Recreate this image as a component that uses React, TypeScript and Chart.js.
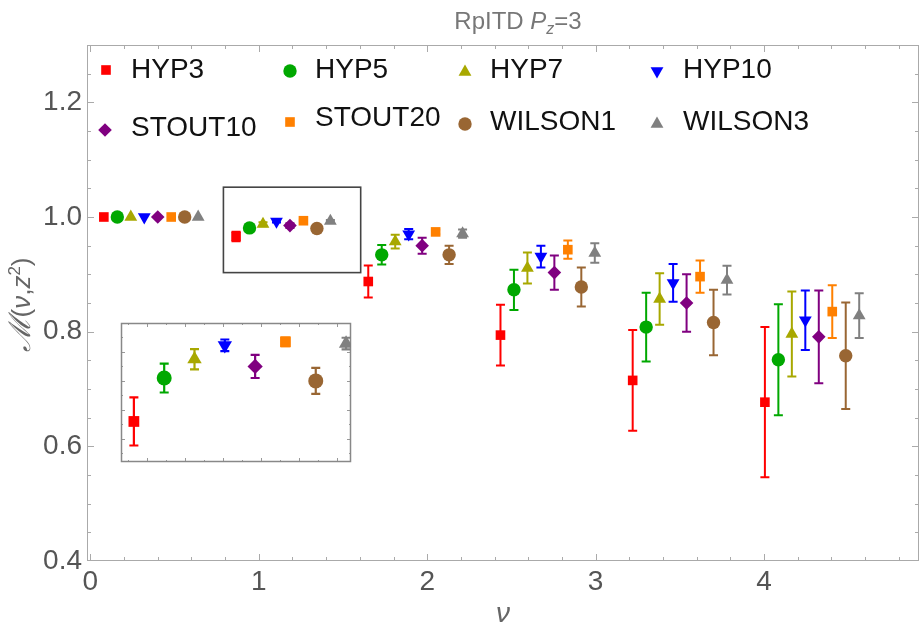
import React, { useEffect, useRef } from "react";
import { Chart, registerables } from "chart.js";
Chart.register(...registerables);

const FONT = "'Liberation Sans', Arial, sans-serif";

// ---- data ----
const seriesNames = ["HYP3", "HYP5", "HYP7", "HYP10", "STOUT10", "STOUT20", "WILSON1", "WILSON3"];
const seriesColors = ["#ff0000", "#00a800", "#a8a800", "#0000ff", "#800080", "#ff8000", "#996633", "#808080"];
const seriesStyles = ["rect", "circle", "triangle", "triangle", "rectRot", "rect", "circle", "triangle"];
const seriesRotation = [0, 0, 0, 180, 0, 0, 0, 0];
const seriesRadius = [6.8, 6.7, 7.4, 7.4, 6.8, 6.8, 6.7, 7.4];

const hyp3X = [0.08, 0.865, 1.65, 2.435, 3.22, 4.005];
const hyp3Y = [1.0, 0.966, 0.8875, 0.794, 0.715, 0.677];
const hyp3Err = [0, 0.0083, 0.028, 0.053, 0.088, 0.131];

const hyp5X = [0.16, 0.945, 1.73, 2.515, 3.3, 4.085];
const hyp5Y = [1.0, 0.981, 0.934, 0.873, 0.808, 0.751];
const hyp5Err = [0, 0.005, 0.017, 0.035, 0.06, 0.097];

const hyp7X = [0.24, 1.025, 1.81, 2.595, 3.38, 4.165];
const hyp7Y = [1.0, 0.9875, 0.957, 0.911, 0.857, 0.796];
const hyp7Err = [0, 0.0035, 0.012, 0.027, 0.045, 0.074];

const hyp10X = [0.32, 1.105, 1.89, 2.675, 3.46, 4.245];
const hyp10Y = [1.0, 0.9923, 0.97, 0.931, 0.885, 0.82];
const hyp10Err = [0, 0.002, 0.009, 0.019, 0.033, 0.052];

const stout10X = [0.4, 1.185, 1.97, 2.755, 3.54, 4.325];
const stout10Y = [1.0, 0.985, 0.95, 0.903, 0.85, 0.791];
const stout10Err = [0, 0.004, 0.014, 0.03, 0.05, 0.081];

const stout20X = [0.48, 1.265, 2.05, 2.835, 3.62, 4.405];
const stout20Y = [1.0, 0.9935, 0.974, 0.943, 0.896, 0.835];
const stout20Err = [0, 0.0015, 0.004, 0.016, 0.028, 0.046];

const wilson1X = [0.56, 1.345, 2.13, 2.915, 3.7, 4.485];
const wilson1Y = [1.0, 0.98, 0.934, 0.878, 0.816, 0.758];
const wilson1Err = [0, 0.0045, 0.016, 0.034, 0.057, 0.093];

const wilson3X = [0.64, 1.425, 2.21, 2.995, 3.78, 4.565];
const wilson3Y = [1.0, 0.9929, 0.971, 0.937, 0.89, 0.828];
const wilson3Err = [0, 0.002, 0.007, 0.017, 0.025, 0.039];

const seriesX = [hyp3X, hyp5X, hyp7X, hyp10X, stout10X, stout20X, wilson1X, wilson3X];
const seriesY = [hyp3Y, hyp5Y, hyp7Y, hyp10Y, stout10Y, stout20Y, wilson1Y, wilson3Y];
const seriesErr = [hyp3Err, hyp5Err, hyp7Err, hyp10Err, stout10Err, stout20Err, wilson1Err, wilson3Err];

// axes
const xTickValues = [0, 1, 2, 3, 4];
const xTickLabels = ["0", "1", "2", "3", "4"];
const yTickValues = [0.4, 0.6, 0.8, 1.0, 1.2];
const yTickLabels = ["0.4", "0.6", "0.8", "1.0", "1.2"];
const xRange = [-0.02, 4.92];
const yRange = [0.4, 1.3];

// inset
const insetXRange = [0.831, 1.438];
const insetYRange = [0.952, 1.0];
const insetYMajor = [0.96, 0.97, 0.98, 0.99];
const insetXMajor = [0.9, 1.0, 1.1, 1.2, 1.3, 1.4];
const insetBox = { xMin: 0.79, xMax: 1.605, yMin: 0.903, yMax: 1.052 };

function steps(from: number, to: number, step: number) {
  const out: number[] = [];
  for (let v = from; v <= to + 1e-9; v += step) out.push(Math.round(v * 10000) / 10000);
  return out;
}

function makeDatasets(scale: number) {
  return seriesNames.map((name, i) => ({
    label: name,
    data: seriesX[i].map((x, j) => ({ x, y: seriesY[i][j] })),
    errors: seriesErr[i],
    errColor: seriesColors[i],
    pointStyle: seriesStyles[i],
    rotation: seriesRotation[i],
    pointRadius: seriesRadius[i] * scale,
    backgroundColor: seriesColors[i],
    borderColor: seriesColors[i],
    borderWidth: 0,
    showLine: false,
  }));
}

const errorBarPlugin = {
  id: "errorBars",
  beforeDatasetsDraw(chart: any, _a: any, opts: any) {
    const { ctx, chartArea } = chart;
    const xs = chart.scales.x, ys = chart.scales.y;
    ctx.save();
    ctx.beginPath();
    ctx.rect(chartArea.left, chartArea.top, chartArea.right - chartArea.left, chartArea.bottom - chartArea.top);
    ctx.clip();
    const cap = opts.cap || 4.5;
    chart.data.datasets.forEach((ds: any) => {
      const errs = ds.errors;
      if (!errs) return;
      ctx.strokeStyle = ds.errColor;
      ctx.lineWidth = opts.width || 2;
      ds.data.forEach((p: any, i: number) => {
        const e = errs[i];
        if (!e) return;
        const px = xs.getPixelForValue(p.x);
        const yt = ys.getPixelForValue(p.y + e);
        const yb = ys.getPixelForValue(p.y - e);
        ctx.beginPath();
        ctx.moveTo(px, yt); ctx.lineTo(px, yb);
        ctx.moveTo(px - cap, yt); ctx.lineTo(px + cap, yt);
        ctx.moveTo(px - cap, yb); ctx.lineTo(px + cap, yb);
        ctx.stroke();
      });
    });
    ctx.restore();
  },
};

const framePlugin = {
  id: "frame",
  beforeDraw(chart: any, _a: any, opts: any) {
    if (opts.background) {
      const { ctx } = chart;
      ctx.save();
      ctx.fillStyle = opts.background;
      ctx.fillRect(0, 0, chart.width, chart.height);
      ctx.restore();
    }
  },
  beforeDatasetsDraw(chart: any, _a: any, opts: any) {
    const { ctx, chartArea: a } = chart;
    const xs = chart.scales.x, ys = chart.scales.y;
    ctx.save();
    ctx.strokeStyle = opts.tickColor;
    ctx.lineWidth = 1;
    const drawX = (vals: number[], len: number) => {
      vals.forEach((v) => {
        const p = Math.round(xs.getPixelForValue(v)) + 0.5;
        if (p < a.left || p > a.right) return;
        ctx.beginPath();
        ctx.moveTo(p, a.bottom); ctx.lineTo(p, a.bottom - len);
        ctx.moveTo(p, a.top); ctx.lineTo(p, a.top + len);
        ctx.stroke();
      });
    };
    const drawY = (vals: number[], len: number) => {
      vals.forEach((v) => {
        const p = Math.round(ys.getPixelForValue(v)) + 0.5;
        if (p < a.top || p > a.bottom) return;
        ctx.beginPath();
        ctx.moveTo(a.left, p); ctx.lineTo(a.left + len, p);
        ctx.moveTo(a.right, p); ctx.lineTo(a.right - len, p);
        ctx.stroke();
      });
    };
    drawX(opts.xMinor, opts.minorLen);
    drawX(opts.xMajor, opts.majorLen);
    drawY(opts.yMinor, opts.minorLen);
    drawY(opts.yMajor, opts.majorLen);
    ctx.strokeStyle = opts.color;
    ctx.lineWidth = opts.width;
    ctx.strokeRect(a.left + 0.5, a.top + 0.5, a.right - a.left - 1, a.bottom - a.top - 1);
    ctx.restore();
  },
};

function drawMarker(ctx: CanvasRenderingContext2D, style: string, rot: number, x: number, y: number, r: number, color: string) {
  ctx.fillStyle = color;
  ctx.beginPath();
  if (style === "rect") {
    const s = r * Math.SQRT1_2;
    ctx.rect(x - s, y - s, 2 * s, 2 * s);
  } else if (style === "circle") {
    ctx.arc(x, y, r, 0, Math.PI * 2);
  } else if (style === "rectRot") {
    ctx.moveTo(x - r, y); ctx.lineTo(x, y - r); ctx.lineTo(x + r, y); ctx.lineTo(x, y + r);
  } else {
    const sgn = rot === 180 ? -1 : 1;
    const h = r * 0.866;
    ctx.moveTo(x, y - sgn * r);
    ctx.lineTo(x + h, y + sgn * r / 2);
    ctx.lineTo(x - h, y + sgn * r / 2);
  }
  ctx.closePath();
  ctx.fill();
}

// legend layout (pixel positions of legend entries)
const legendLayout = [
  { mx: 106, my: 70, tx: 131, ty: 70 },
  { mx: 290, my: 71, tx: 315, ty: 70 },
  { mx: 465, my: 72, tx: 490, ty: 70 },
  { mx: 657, my: 71, tx: 683, ty: 70 },
  { mx: 105, my: 130, tx: 131, ty: 128 },
  { mx: 290, my: 122, tx: 315, ty: 118 },
  { mx: 465, my: 124, tx: 490, ty: 122 },
  { mx: 657, my: 124, tx: 683, ty: 122 },
];

const decorPlugin = {
  id: "decor",
  afterDatasetsDraw(chart: any) {
    const { ctx } = chart;
    const xs = chart.scales.x, ys = chart.scales.y;
    ctx.save();
    // indicator box
    ctx.strokeStyle = "#444";
    ctx.lineWidth = 1.6;
    const x0 = xs.getPixelForValue(insetBox.xMin), x1 = xs.getPixelForValue(insetBox.xMax);
    const y0 = ys.getPixelForValue(insetBox.yMax), y1 = ys.getPixelForValue(insetBox.yMin);
    ctx.strokeRect(x0, y0, x1 - x0, y1 - y0);

    // legend
    ctx.textBaseline = "middle";
    ctx.textAlign = "left";
    ctx.font = `28px ${FONT}`;
    seriesNames.forEach((name, i) => {
      const L = legendLayout[i];
      drawMarker(ctx, seriesStyles[i], seriesRotation[i], L.mx, L.my, seriesRadius[i], seriesColors[i]);
      ctx.fillStyle = "#111";
      ctx.fillText(name, L.tx, L.ty);
    });

    // title
    ctx.fillStyle = "#777";
    ctx.textBaseline = "alphabetic";
    const parts: [string, string, number][] = [
      ["RpITD ", `24px ${FONT}`, 0],
      ["P", `italic 24px ${FONT}`, 0],
      ["z", `italic 16px ${FONT}`, 5],
      ["=3", `24px ${FONT}`, 0],
    ];
    let tw = 0;
    parts.forEach(([t, f]) => { ctx.font = f; tw += ctx.measureText(t).width; });
    let cx = 518 - tw / 2;
    parts.forEach(([t, f, dy]) => {
      ctx.font = f;
      ctx.fillText(t, cx, 29 + dy);
      cx += ctx.measureText(t).width;
    });

    // x axis title
    ctx.fillStyle = "#666";
    ctx.font = `italic 28px ${FONT}`;
    ctx.textAlign = "center";
    ctx.fillText("\u03BD", 503, 622);

    // y axis title
    ctx.translate(30, 305);
    ctx.rotate(-Math.PI / 2);
    const yparts: [string, string, number][] = [
      ["\u2133", `italic 30px 'DejaVu Serif', serif`, 0],
      ["(", `26px ${FONT}`, 0],
      ["\u03BD", `italic 26px ${FONT}`, 0],
      [",", `26px ${FONT}`, 0],
      ["z", `italic 26px ${FONT}`, 0],
      ["2", `17px ${FONT}`, -10],
      [")", `26px ${FONT}`, 0],
    ];
    let yw = 0;
    yparts.forEach(([t, f]) => { ctx.font = f; yw += ctx.measureText(t).width; });
    ctx.textAlign = "left";
    let yx = -yw / 2;
    yparts.forEach(([t, f, dy]) => {
      ctx.font = f;
      ctx.fillText(t, yx, dy);
      yx += ctx.measureText(t).width;
    });
    ctx.restore();
  },
};

export default function App() {
  const mainRef = useRef<HTMLCanvasElement>(null);
  const insetRef = useRef<HTMLCanvasElement>(null);

  useEffect(() => {
    document.body.style.margin = "0";
    const main = new Chart(mainRef.current!, {
      type: "scatter",
      data: { datasets: makeDatasets(1) as any },
      plugins: [framePlugin, errorBarPlugin, decorPlugin],
      options: {
        responsive: false,
        animation: false,
        events: [],
        layout: { autoPadding: false, padding: { top: 45, right: 1, left: 0, bottom: 0 } },
        plugins: {
          legend: { display: false },
          tooltip: { enabled: false },
          frame: {
            color: "#aaa", width: 1, tickColor: "#aaa",
            xMajor: xTickValues, xMinor: steps(0, 4.8, 0.2),
            yMajor: yTickValues, yMinor: steps(0.4, 1.3, 0.05),
            majorLen: 7, minorLen: 4,
          },
          errorBars: { cap: 4.5, width: 2 },
        } as any,
        scales: {
          x: {
            type: "linear", min: xRange[0], max: xRange[1],
            afterFit: (s: any) => { s.height = 70; },
            afterBuildTicks: (s: any) => { s.ticks = xTickValues.map((v) => ({ value: v })); },
            grid: { display: false, drawTicks: false },
            border: { display: false },
            ticks: {
              color: "#555", font: { family: FONT, size: 28 }, padding: 4,
              maxRotation: 0, autoSkip: false,
              callback: (_v: any, i: number) => xTickLabels[i],
            },
          },
          y: {
            type: "linear", min: yRange[0], max: yRange[1],
            afterFit: (s: any) => { s.width = 87; },
            afterBuildTicks: (s: any) => { s.ticks = yTickValues.map((v) => ({ value: v })); },
            grid: { display: false, drawTicks: false },
            border: { display: false },
            ticks: {
              color: "#555", font: { family: FONT, size: 28 }, padding: 5, autoSkip: false,
              callback: (_v: any, i: number) => yTickLabels[i],
            },
          },
        },
      } as any,
    });

    const inset = new Chart(insetRef.current!, {
      type: "scatter",
      data: { datasets: makeDatasets(1.12) as any },
      plugins: [framePlugin, errorBarPlugin],
      options: {
        responsive: false,
        animation: false,
        events: [],
        layout: { autoPadding: false, padding: 2 },
        plugins: {
          legend: { display: false },
          tooltip: { enabled: false },
          frame: {
            background: "#ffffff",
            color: "#888", width: 1.5, tickColor: "#999",
            xMajor: insetXMajor, xMinor: steps(0.85, 1.45, 0.05),
            yMajor: insetYMajor, yMinor: steps(0.955, 0.995, 0.01),
            majorLen: 4, minorLen: 2,
          },
          errorBars: { cap: 4.5, width: 2.2 },
        } as any,
        scales: {
          x: { type: "linear", display: false, min: insetXRange[0], max: insetXRange[1] },
          y: { type: "linear", display: false, min: insetYRange[0], max: insetYRange[1] },
        },
      } as any,
    });

    return () => {
      main.destroy();
      inset.destroy();
    };
  }, []);

  return (
    <div style={{ position: "absolute", left: 0, top: 0, width: 920, height: 631, background: "#fff" }}>
      <canvas ref={mainRef} width={920} height={631} style={{ position: "absolute", left: 0, top: 0, width: 920, height: 631 }} />
      <canvas ref={insetRef} width={234} height={143} style={{ position: "absolute", left: 119, top: 321, width: 234, height: 143 }} />
    </div>
  );
}
